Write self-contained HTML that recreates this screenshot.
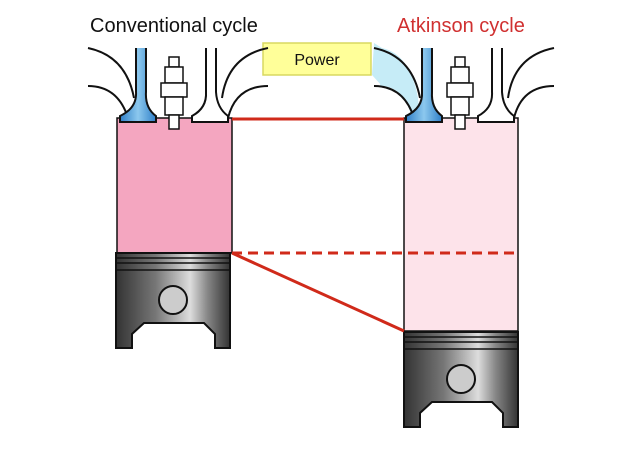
<!DOCTYPE html>
<html><head><style>body{margin:0;background:#fff}svg{display:block}</style></head><body>
<svg width="620" height="455" viewBox="0 0 620 455" xmlns="http://www.w3.org/2000/svg">
<defs>
<linearGradient id="pg" x1="0" x2="1">
<stop offset="0" stop-color="#333"/><stop offset="0.35" stop-color="#777"/><stop offset="0.65" stop-color="#ddd"/><stop offset="0.8" stop-color="#888"/><stop offset="1" stop-color="#333"/>
</linearGradient>
<linearGradient id="bv" x1="0" x2="1"><stop offset="0" stop-color="#2f7fc8"/><stop offset="0.5" stop-color="#8cc8ee"/><stop offset="1" stop-color="#2f7fc8"/></linearGradient>
<g id="piston">
<path d="M0,0 H114 V95 H99 V81 L88,70 H28 L16,81 V95 H0 Z" fill="url(#pg)" stroke="#111" stroke-width="2"/>
<path d="M0,5 H114 M0,10 H114 M0,17 H114" stroke="#111" stroke-width="1.5"/>
<circle cx="57" cy="47" r="14" fill="#ccc" stroke="#111" stroke-width="2"/>
</g>
<g id="head">
<path d="M-30,48 Q8,56 16,98" fill="none" stroke="#111" stroke-width="2"/>
<path d="M-30,86 Q0,86 10,118" fill="none" stroke="#111" stroke-width="2"/>
<path d="M150,48 Q110,56 104,98" fill="none" stroke="#111" stroke-width="2"/>
<path d="M150,86 Q118,86 110,118" fill="none" stroke="#111" stroke-width="2"/>
<path d="M18,48 V92 Q19,108 2,116 V122 H38 V116 Q27,108 28,92 V48" fill="url(#bv)" stroke="#111" stroke-width="2"/>
<path d="M88,48 V92 Q89,108 74,116 V122 H110 V116 Q99,108 98,92 V48" fill="#fff" stroke="#111" stroke-width="2"/>
<g fill="#fff" stroke="#111" stroke-width="1.5">
<rect x="51" y="57" width="10" height="10"/>
<rect x="47" y="67" width="18" height="16"/>
<rect x="43" y="83" width="26" height="14"/>
<rect x="47" y="97" width="18" height="18"/>
<rect x="51" y="115" width="10" height="14"/>
</g>
</g>
</defs>
<text x="90" y="32" font-family="Liberation Sans, sans-serif" font-size="20" fill="#111">Conventional cycle</text>
<text x="397" y="32" font-family="Liberation Sans, sans-serif" font-size="20" fill="#d03030">Atkinson cycle</text>
<rect x="263" y="43" width="108" height="32" fill="#ffff99" stroke="#d8d860" stroke-width="1.5"/>
<text x="317" y="65" text-anchor="middle" font-family="Liberation Sans, sans-serif" font-size="16" fill="#111">Power</text>
<path d="M382,48 Q410,54 418,98 L420,118 L412,118 Q404,86 380,86 Z" fill="#c6ecf7"/>
<path d="M374,43 L372,75 L382,86 L382,48 Z" fill="#c6ecf7"/>
<rect x="117" y="118" width="115" height="135" fill="#f4a6c0" stroke="#111" stroke-width="1.5"/>
<rect x="404" y="118" width="114" height="213" fill="#fde3ea" stroke="#111" stroke-width="1.5"/>
<use href="#head" x="118" y="0"/>
<use href="#head" x="404" y="0"/>
<use href="#piston" x="116" y="253"/>
<use href="#piston" x="404" y="332"/>
<line x1="232" y1="119" x2="404" y2="119" stroke="#d02a1a" stroke-width="3"/>
<line x1="232" y1="253" x2="518" y2="253" stroke="#d02a1a" stroke-width="3" stroke-dasharray="10,6"/>
<line x1="232" y1="253" x2="404" y2="331" stroke="#d02a1a" stroke-width="3"/>
</svg>
</body></html>
